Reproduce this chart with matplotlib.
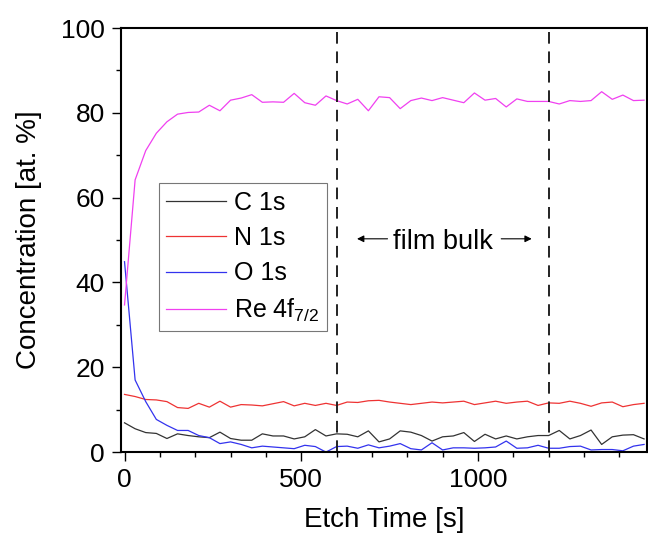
import numpy as np
import matplotlib
matplotlib.use("Agg")
import matplotlib.pyplot as plt
from matplotlib.ticker import MultipleLocator

plt.rcParams['font.family'] = ['Liberation Sans', 'DejaVu Sans']
plt.rcParams['mathtext.fontset'] = 'custom'
plt.rcParams['mathtext.rm'] = 'Liberation Sans'

# etch time, one spectrum every 30 s
etch_time = np.arange(0, 1500, 30)

c_1s = [6.9, 5.5, 4.6, 4.4, 3.2, 4.3, 3.9, 3.6, 3.4, 4.7,
        3.2, 2.8, 2.8, 4.3, 3.8, 3.8, 3.1, 3.6, 5.3, 3.8,
        4.3, 4.2, 3.6, 5.0, 2.4, 3.1, 5.0, 4.7, 3.9, 2.6,
        3.6, 3.8, 4.6, 2.5, 4.2, 3.1, 3.8, 3.1, 3.6, 3.9,
        3.9, 5.1, 3.1, 3.9, 5.2, 1.8, 3.6, 4.0, 4.1, 3.1]

n_1s = [13.6, 13.1, 12.4, 12.3, 11.9, 10.5, 10.3, 11.5, 10.6, 12.0,
        10.6, 11.2, 11.1, 10.9, 11.4, 11.9, 10.9, 11.5, 11.0, 11.5,
        11.0, 11.8, 11.7, 12.1, 12.2, 11.8, 11.5, 11.2, 11.5, 11.8,
        11.6, 11.8, 12.0, 11.2, 11.6, 12.0, 11.5, 11.8, 12.0, 11.0,
        11.6, 11.5, 12.0, 11.5, 10.8, 11.6, 11.8, 10.7, 11.2, 11.5]

o_1s = [44.9, 17.0, 11.9, 7.7, 6.3, 5.1, 5.1, 3.9, 3.4, 2.0,
        2.4, 1.8, 1.0, 1.4, 1.2, 1.0, 0.8, 1.6, 1.3, 0.0,
        1.3, 1.4, 0.9, 1.7, 1.0, 1.4, 2.0, 0.8, 0.5, 2.2,
        0.5, 1.0, 1.0, 0.9, 1.0, 1.2, 2.6, 0.9, 1.0, 1.6,
        0.9, 0.9, 1.3, 1.4, 0.5, 0.6, 0.6, 0.3, 1.4, 1.8]

re_4f = [34.7, 64.2, 71.1, 75.2, 77.9, 79.7, 80.1, 80.2, 81.8, 80.5,
         83.0, 83.5, 84.3, 82.5, 82.6, 82.5, 84.6, 82.4, 81.8, 84.0,
         82.9, 82.1, 83.2, 80.5, 83.8, 83.6, 81.0, 82.9, 83.5, 82.9,
         83.6, 83.0, 82.4, 84.7, 83.0, 83.4, 81.4, 83.3, 82.7, 82.7,
         82.7, 82.1, 82.9, 82.7, 82.9, 85.0, 83.2, 84.2, 82.9, 83.0]

series = [
    (c_1s, "#333333", "C 1s"),
    (n_1s, "#ee3333", "N 1s"),
    (o_1s, "#3333ee", "O 1s"),
    (re_4f, "#f040f0", r"Re 4f$_{\mathregular{7/2}}$"),
]

# boundaries of the film bulk region
bulk_start, bulk_end = 600, 1200

fig = plt.figure(figsize=(6.48, 5.35), dpi=100)
ax = fig.add_axes([0.1867, 0.155, 0.8116, 0.7925])

for values, color, label in series:
    ax.plot(etch_time, values, color=color, lw=0.9, label=label)

for xb in (bulk_start, bulk_end):
    ax.plot([xb, xb], [0, 99], color="#222222", lw=1.4, ls=(0, (6, 4)))

ax.annotate("", xy=(650, 50.3), xytext=(752, 50.3),
            arrowprops=dict(arrowstyle="-|>", color="black", lw=0.8,
                            mutation_scale=10))
ax.annotate("", xy=(1160, 50.3), xytext=(1058, 50.3),
            arrowprops=dict(arrowstyle="-|>", color="black", lw=0.8,
                            mutation_scale=10))
ax.text((bulk_start + bulk_end) / 2, 49.6, "film bulk", ha="center",
        va="center", fontsize=19.5)

ax.set_xlim(-10, 1478)
ax.set_ylim(0, 100)
ax.xaxis.set_major_locator(MultipleLocator(500))
ax.xaxis.set_minor_locator(MultipleLocator(100))
ax.yaxis.set_major_locator(MultipleLocator(20))
ax.yaxis.set_minor_locator(MultipleLocator(10))
ax.tick_params(which="major", length=6.5, width=1.0, labelsize=19, pad=5)
ax.tick_params(which="minor", length=3.6, width=1.0)
for spine in ax.spines.values():
    spine.set_linewidth(1.5)

ax.set_xlabel("Etch Time [s]", fontsize=20, labelpad=11)
ax.set_ylabel("Concentration [at. %]", fontsize=20, labelpad=14)

leg = ax.legend(loc="upper left", bbox_to_anchor=(0.072, 0.634),
                fontsize=18, frameon=True, fancybox=False,
                edgecolor="#555555", handlelength=2.4, handletextpad=0.3,
                labelspacing=0.45, borderpad=0.3, borderaxespad=0)
leg.get_frame().set_linewidth(0.8)

fig.savefig("out.png", dpi=100)
